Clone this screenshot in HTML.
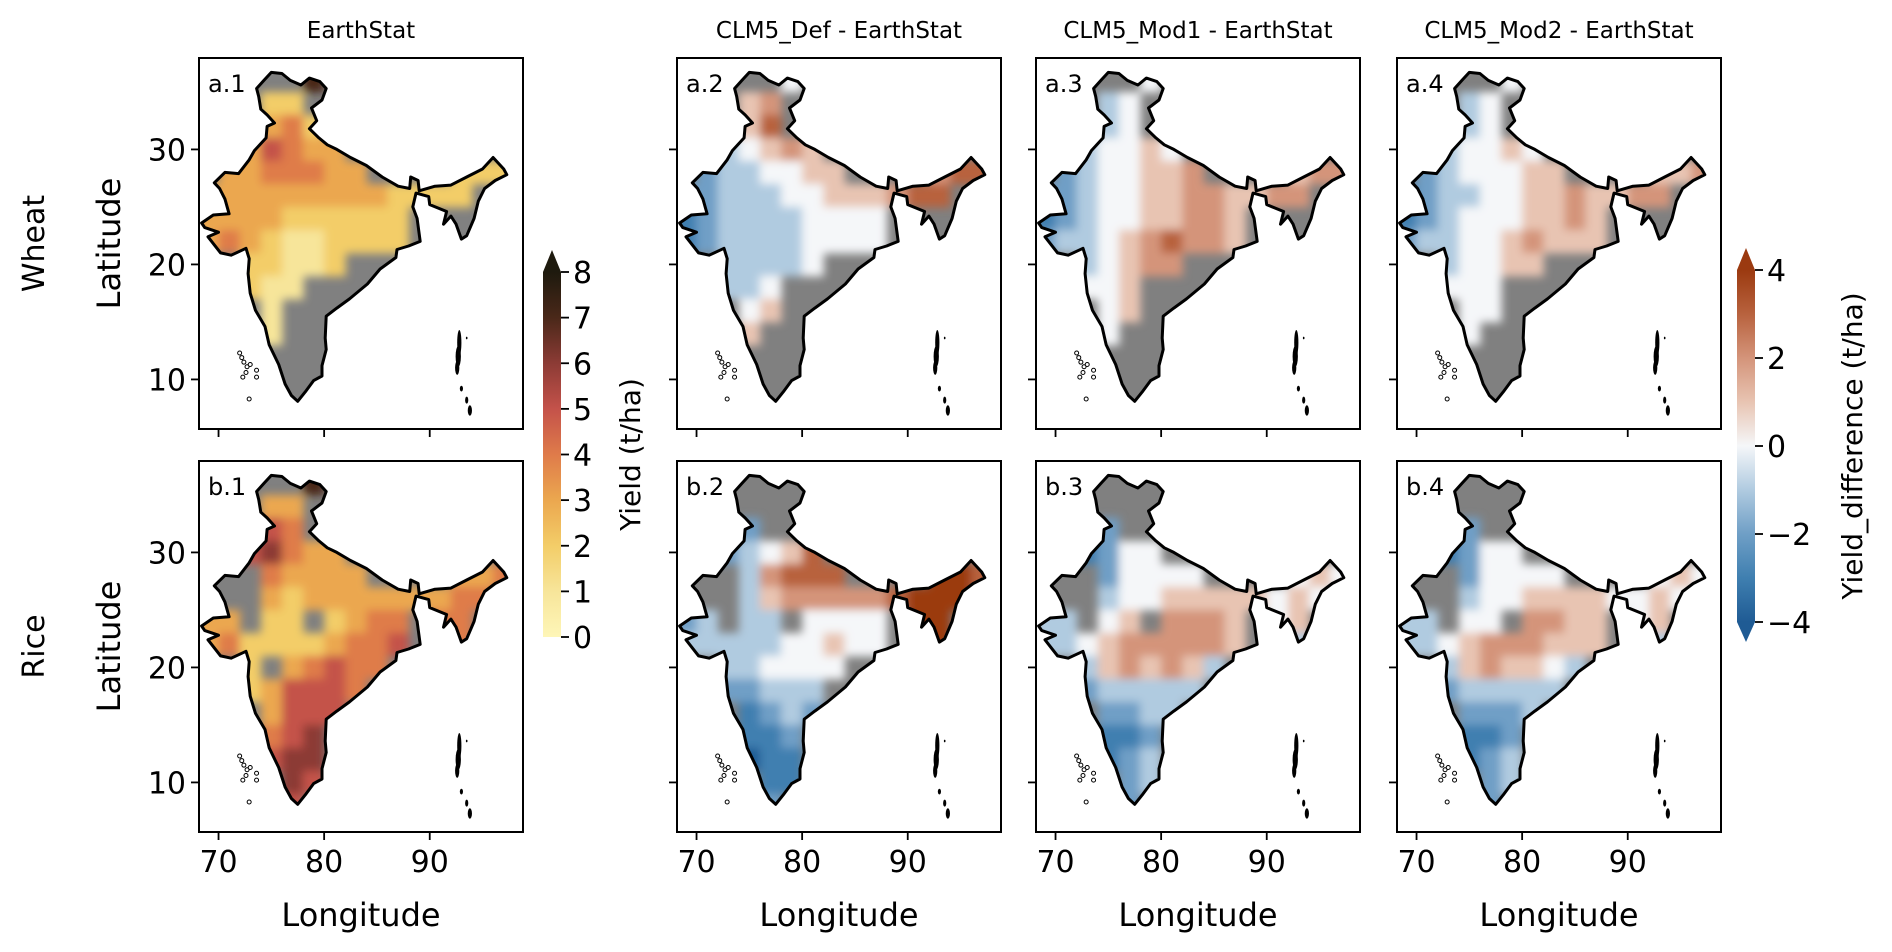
<!DOCTYPE html>
<html><head><meta charset="utf-8"><style>
body{margin:0;background:#fff}
svg{display:block;font-family:"DejaVu Sans","Liberation Sans",sans-serif}
</style></head><body>
<svg id="fig" width="1892" height="952" viewBox="0 0 1892 952">
<defs>
<filter id="soft" x="-5%" y="-5%" width="110%" height="110%"><feGaussianBlur stdDeviation="4.5"/></filter>
<linearGradient id="gradYield" x1="0" y1="1" x2="0" y2="0">
<stop offset="0" stop-color="#fef6b8"/><stop offset="0.125" stop-color="#f7e59a"/><stop offset="0.25" stop-color="#f3cd68"/><stop offset="0.375" stop-color="#eba74f"/><stop offset="0.5" stop-color="#df7b4a"/><stop offset="0.625" stop-color="#c4524a"/><stop offset="0.75" stop-color="#8c3b35"/><stop offset="0.875" stop-color="#4a2819"/><stop offset="1" stop-color="#1e1a0e"/>
</linearGradient>
<linearGradient id="gradDiff" x1="0" y1="1" x2="0" y2="0">
<stop offset="0" stop-color="#1f5b94"/><stop offset="0.125" stop-color="#3f7fb0"/><stop offset="0.25" stop-color="#6f9fc6"/><stop offset="0.375" stop-color="#b0cbe0"/><stop offset="0.5" stop-color="#f5f7f9"/><stop offset="0.625" stop-color="#e8c4b2"/><stop offset="0.75" stop-color="#d4947a"/><stop offset="0.875" stop-color="#b8623e"/><stop offset="1" stop-color="#9b3a10"/>
</linearGradient>
</defs>
</svg>
<script>
const lonCenters=[69,71,73,75,77,79,81,83,85,87,89,91,93,95,97];
const latCenters=[36,34,32,30,28,26,24,22,20,18,16,14,12,10,8];
const xTicks=[70,80,90];
const yTicks=[30,20,10];
const yieldTicks=[0,1,2,3,4,5,6,7,8];
const diffTicks=[-4,-2,0,2,4];
const colTitles=["EarthStat","CLM5_Def - EarthStat","CLM5_Mod1 - EarthStat","CLM5_Mod2 - EarthStat"];
const rowTitles=["Wheat","Rice"];
const wheatEarthStat=[".....7.........","...22..........","...342.........","..35433........",".3344433....222","3333333332222..","3333222222.....","3432112222.....","..22112........","..211..........","...1...........","...1...........","...............","...............","..............."];
const wheatDef=[".....E.........","...FG..........","...FH..........","..DEFGF........",".CDDEEFF....GHH","CCDDDEEFFFGHH..","BCDDDDEEEE.....","BCDDDDEEEE.....","..DDDDE........","..DDE..........","...EF..........","...F...........","...............","...............","..............."];
const wheatMod1=[".....E.........","...DE..........","...DE..........","..DEEFE........",".CDEEFFG....FGG","CCDEEFFGGFFGG..","BCDEEFFGGF.....","CDDEFGHGGF.....","..DEFGG........","..EEF..........","...EF..........","...E...........","...............","...............","..............."];
const wheatMod2=[".....E.........","...DE..........","...DE..........","..DEEFE........",".CDEEEFF....FFG","BCDDEEFFGFFGG..","BCDEEEFFGF.....","CDDEEFGFFF.....","..DEEFF........","..EEE..........","...EE..........","...E...........","...............","...............","..............."];
const riceEarthStat=[".....7.........","...33..........","...54..........","..56433........","...43333....334","...32333333344.","33.22.2344.44..","3422223445..4..","..2.34544......","..235554.......","...3555........","...456.........","...566.........","....65.........","....5.........."];
const riceDef=["...............","...............","...C...........","..CDEFH........","...DGHHH....IIH","...DFGGGGGHIII.","CD.DD.EEEE.II..","DDDDDEEFEE..I..","..DDEEEE.......","..CCDDD........","...BCDC........","...BBC.........","...ABB.........","....BB.........","....C.........."];
const riceMod1=["...............","...............","...C...........","..BCEE.........","...CEEEE....EFE","...DEEFFFFFEFE.","DD.EF.GGGF.EF..","DDEFGGGGGF..D..","..DFGFGFD......","..CDDDDD.......","...CCDD........","...BBC.........","...BCD.........","....CD.........","....C.........."];
const riceMod2=["...............","...............","...C...........","..BCEE.........","...CEEEE....EFE","...DEEFFFFEEFE.","DD.EE.GGFF.EF..","DDEFGGGFFF..D..","..DFGFFED......","..CDDDDD.......","...CCCD........","...BBC.........","...BCD.........","....CD.........","....C.........."];

const yieldColors=["#fef6b8","#f7e59a","#f3cd68","#eba74f","#df7b4a","#c4524a","#8c3b35","#4a2819","#1e1a0e"];
const diffColors={A:"#1f5b94",B:"#3f7fb0",C:"#6f9fc6",D:"#b0cbe0",E:"#f5f7f9",F:"#e8c4b2",G:"#d4947a",H:"#b8623e",I:"#9b3a10"};
const india=[[73.8,34.6],[73.6,35.3],[74.3,36.0],[75.0,36.7],[76.0,36.6],[76.8,36.0],[77.8,35.6],[78.6,36.2],[79.6,35.9],[80.2,35.3],[79.8,34.3],[78.8,33.6],[79.3,32.5],[78.6,31.8],[79.5,31.0],[80.3,30.4],[81.2,30.0],[82.5,29.3],[84.0,28.6],[85.5,27.6],[87.0,26.8],[88.1,26.6],[88.2,27.6],[88.9,27.3],[89.0,26.4],[90.5,26.8],[92.0,26.9],[93.5,27.6],[95.0,28.3],[96.0,29.3],[97.0,28.3],[97.3,27.8],[96.2,27.3],[95.2,26.6],[94.6,25.5],[94.2,24.0],[93.5,22.5],[93.0,22.2],[92.5,23.5],[92.0,24.2],[91.3,23.5],[91.6,24.6],[90.0,25.2],[89.9,25.9],[88.7,26.2],[88.4,25.0],[88.8,24.0],[89.1,22.0],[88.0,21.6],[86.9,21.3],[86.8,20.6],[85.3,19.6],[84.1,18.3],[82.4,17.0],[81.2,16.2],[80.2,15.5],[80.1,13.6],[80.2,12.6],[79.8,11.2],[79.8,10.3],[79.0,9.9],[78.2,8.9],[77.5,8.1],[76.9,8.6],[76.3,9.6],[75.7,11.3],[74.8,13.0],[74.4,14.6],[73.5,16.0],[73.0,17.5],[72.8,19.2],[72.9,20.5],[72.6,21.4],[71.2,20.8],[70.2,21.0],[69.0,22.4],[70.0,22.8],[68.7,23.2],[68.4,23.6],[69.5,24.3],[71.0,24.4],[70.6,25.7],[70.1,26.6],[69.6,27.1],[70.6,28.0],[71.9,27.9],[72.9,29.1],[73.4,29.9],[74.5,31.0],[74.6,32.0],[75.3,32.3],[74.6,33.0],[74.0,33.5]];
const lakshadweep=[[72.2,11.9],[72.4,11.5],[72.7,11.1],[73.0,11.3],[72.6,10.6],[73.6,10.8],[72.3,10.2],[73.6,10.2],[72.9,8.3],[72.0,12.3]];
const andaman=[[92.8,13.2,0.2,1.1],[92.7,12.0,0.25,0.9],[92.6,11.0,0.2,0.6],[93.5,13.6,0.08,0.12],[93.0,9.2,0.15,0.25],[93.5,8.2,0.15,0.3],[93.8,7.3,0.2,0.45]];

const NS="http://www.w3.org/2000/svg";
const svg=document.getElementById('fig');
function el(tag,attrs,parent){const e=document.createElementNS(NS,tag);for(const k in attrs)e.setAttribute(k,attrs[k]);(parent||svg).appendChild(e);return e;}
const PW=324,PH=371,LON0=68.15,PXLON=10.56,LAT0=37.95,PXLAT=11.5;
const colX=[199,677,1036,1397], rowY=[58,461];
const panels=[[wheatEarthStat,wheatDef,wheatMod1,wheatMod2],[riceEarthStat,riceDef,riceMod1,riceMod2]];
const labels=[["a.1","a.2","a.3","a.4"],["b.1","b.2","b.3","b.4"]];

for(let r=0;r<2;r++)for(let c=0;c<4;c++){
  const L=colX[c],T=rowY[r];
  const xs=lon=>L+(lon-LON0)*PXLON, ys=lat=>T+(LAT0-lat)*PXLAT;
  const g=el('g',{});
  
  
  const d='M'+india.map(p=>xs(p[0]).toFixed(1)+','+ys(p[1]).toFixed(1)).join('L')+'Z';
  const cid='clip'+r+c;
  const cp=el('clipPath',{id:cid},g);el('path',{d:d},cp);
  const land=el('path',{d:d,fill:'#808080'},g);
  
  
  const outer=el('g',{'clip-path':'url(#'+cid+')'},g);
  const inner=el('g',{filter:'url(#soft)'},outer);
  const data=panels[r][c];
  for(let i=0;i<latCenters.length;i++)for(let j=0;j<lonCenters.length;j++){
    const ch=data[i][j]; if(ch==='.')continue;
    const col=(c===0)?yieldColors[+ch]:diffColors[ch];
    const x0=xs(lonCenters[j]-1),x1=xs(lonCenters[j]+1),y0=ys(latCenters[i]+1),y1=ys(latCenters[i]-1);
    const cell=el('rect',{x:x0.toFixed(1),y:y0.toFixed(1),width:(x1-x0+0.6).toFixed(1),height:(y1-y0+0.6).toFixed(1),fill:col},inner);
    
    
  }
  const ol=el('path',{d:d,fill:'none',stroke:'#000','stroke-width':3,'stroke-linejoin':'round'},g);
  
  
  lakshadweep.forEach(p=>{el('circle',{cx:xs(p[0]),cy:ys(p[1]),r:2,fill:'#fff',stroke:'#000','stroke-width':1},g);});
  andaman.forEach(p=>{el('ellipse',{cx:xs(p[0]),cy:ys(p[1]),rx:p[2]*PXLON,ry:p[3]*PXLAT,fill:'#000'},g);});
  const fr=el('rect',{x:L,y:T,width:PW,height:PH,fill:'none',stroke:'#000','stroke-width':2},g);
  
  
  const pl=el('text',{x:L+9,y:T+34,'font-size':24,fill:'#000'},g);pl.textContent=labels[r][c];
  
  
  xTicks.forEach(v=>{const x=xs(v);el('line',{x1:x,x2:x,y1:T+PH,y2:T+PH+8,stroke:'#000','stroke-width':1.8},g);
    if(r===1){const t=el('text',{x:x,y:T+PH+40,'font-size':30,'text-anchor':'middle'},g);t.textContent=v;
      
      }});
  yTicks.forEach(v=>{const y=ys(v);el('line',{x1:L-8,x2:L,y1:y,y2:y,stroke:'#000','stroke-width':1.8},g);
    if(c===0){const t=el('text',{x:L-13,y:y+11,'font-size':30,'text-anchor':'end'},g);t.textContent=v;
      
      }});
  if(r===0){const t=el('text',{x:L+PW/2,y:38,'font-size':23,'text-anchor':'middle'});t.textContent=colTitles[c];
    
    }
  if(r===1){const t=el('text',{x:L+PW/2,y:926,'font-size':32,'text-anchor':'middle'});t.textContent='Longitude';
    
    }
  if(c===0){const cy=T+PH/2;const t=el('text',{x:0,y:0,'font-size':32,'text-anchor':'middle',transform:'translate(120,'+cy+') rotate(-90)'});t.textContent='Latitude';
    
    
    const rt=el('text',{x:0,y:0,'font-size':30,'text-anchor':'middle',transform:'translate(44,'+cy+') rotate(-90)'});rt.textContent=rowTitles[r];
    
    }
}
function colorbar(name,x,yTop,yBot,vmin,vmax,grad,ticks,label,labelX,arrowTop,arrowBot){
  const g=el('g',{});
  
  
  const w=18;
  el('rect',{x:x,y:yTop,width:w,height:yBot-yTop,fill:'url(#'+grad+')'},g);
  if(arrowTop){el('path',{d:`M${x},${yTop}L${x+w/2},${yTop-22}L${x+w},${yTop}Z`,fill:grad==='gradYield'?'#1e1a0e':'#9b3a10'},g);}
  if(arrowBot){el('path',{d:`M${x},${yBot}L${x+w/2},${yBot+20}L${x+w},${yBot}Z`,fill:'#1f5b94'},g);}
  const sy=v=>yBot-(v-vmin)/(vmax-vmin)*(yBot-yTop);
  ticks.forEach(v=>{const y=sy(v);el('line',{x1:x+w,x2:x+w+8,y1:y,y2:y,stroke:'#000','stroke-width':1.8},g);
    const t=el('text',{x:x+w+12,y:y+11,'font-size':30},g);t.textContent=v<0?'\u2212'+(-v):v;
    
    });
  const t=el('text',{x:0,y:0,'font-size':28,'text-anchor':'middle',transform:`translate(${labelX},${(yTop+yBot)/2}) rotate(-90)`},g);t.textContent=label;
  
  
}
colorbar('yield-colorbar',543,272,637,0,8,'gradYield',yieldTicks,'Yield (t/ha)',640,true,false);
colorbar('difference-colorbar',1737,270,622,-4,4,'gradDiff',diffTicks,'Yield_difference (t/ha)',1862,true,true);
</script>
</body></html>
